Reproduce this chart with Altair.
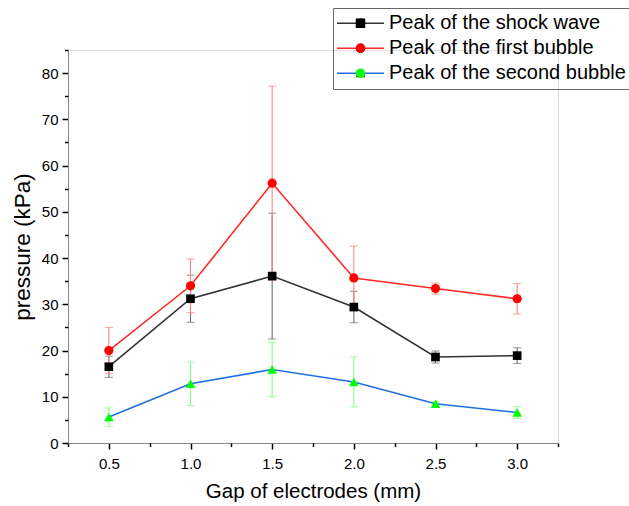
import altair as alt
import pandas as pd

# ---------------- data ----------------
gap = [0.5, 1.0, 1.5, 2.0, 2.5, 3.0]
series_names = ["Peak of the shock wave", "Peak of the first bubble", "Peak of the second bubble"]
shock = [16.5, 31.2, 36.1, 29.4, 18.6, 18.9]
shock_err = [2.3, 5.1, 13.6, 3.4, 1.3, 1.7]
first = [20.0, 34.0, 56.2, 35.7, 33.4, 31.2]
first_err = [5.0, 5.8, 21.0, 6.9, 1.2, 3.3]
second = [5.6, 12.8, 15.9, 13.2, 8.5, 6.6]
second_err = [2.0, 4.7, 5.9, 5.4, 0.5, 1.3]
x_major = [0.5, 1.0, 1.5, 2.0, 2.5, 3.0]
x_minor = [0.25, 0.75, 1.25, 1.75, 2.25, 2.75, 3.25]
y_major = [0, 10, 20, 30, 40, 50, 60, 70, 80]
y_minor = [5, 15, 25, 35, 45, 55, 65, 75, 85]

# ---------------- styles ----------------
line_colors = ["#333333", "#ff2a2a", "#1f6fe0"]
marker_colors = ["#000000", "#ff0000", "#00ff00"]
err_colors = ["#707070", "#ff8585", "#85ff85"]
shapes = ["square", "circle", "triangle-up"]
marker_sizes = [75, 95, 115]
FONT = "Liberation Sans"

values = [shock, first, second]
errors = [shock_err, first_err, second_err]

rows = []
for name, ys, es in zip(series_names, values, errors):
    for g, v, e in zip(gap, ys, es):
        rows.append({"gap": g, "p": v, "lo": v - e, "hi": v + e,
                     "series": name, "series_m": name})
df = pd.DataFrame(rows)

x_axis = alt.Axis(
    values=x_major, format=".1f", orient="bottom", ticks=True,
    tickSize=6, tickWidth=1.5, tickColor="#000000",
    labelOverlap=False, labelFlush=False, grid=False,
    title="Gap of electrodes (mm)", titleFontSize=20.5, titlePadding=10,
    titleFontWeight="normal", labelFontSize=15, labelPadding=7,
)
y_axis = alt.Axis(
    values=y_major, orient="left", ticks=True,
    tickSize=6, tickWidth=1.5, tickColor="#000000",
    labelOverlap=False, labelFlush=False, grid=False,
    title="pressure (kPa)", titleFontSize=22.5, titlePadding=7,
    titleFontWeight="normal", labelFontSize=15, labelPadding=4,
)
x_axis_minor = alt.Axis(
    values=x_minor, orient="bottom", ticks=True, tickSize=3.5, tickWidth=1.5,
    tickColor="#000000", labels=False, domain=False, grid=False, title=None,
)
y_axis_minor = alt.Axis(
    values=y_minor, orient="left", ticks=True, tickSize=3.5, tickWidth=1.5,
    tickColor="#000000", labels=False, domain=False, grid=False, title=None,
)

xs = alt.Scale(domain=[0.25, 3.25], nice=False, zero=False)
ys_ = alt.Scale(domain=[0, 85], nice=False, zero=False)


def X(axis=x_axis):
    return alt.X("gap:Q", scale=xs, axis=axis)


def Y(field="p", axis=y_axis):
    return alt.Y(f"{field}:Q", scale=ys_, axis=axis)


base = alt.Chart(df)

layers = []
for name, col in zip(series_names, err_colors):
    sub = base.transform_filter(alt.datum.series == name)
    layers.append(sub.mark_rule(color=col, strokeWidth=1.1).encode(
        x=X(), y=Y("lo"), y2="hi:Q"))
    layers.append(sub.mark_tick(color=col, orient="horizontal", size=8, thickness=1.1).encode(
        x=X(), y=Y("lo")))
    layers.append(sub.mark_tick(color=col, orient="horizontal", size=8, thickness=1.1).encode(
        x=X(), y=Y("hi")))

line_legend = alt.Legend(
    orient="none", legendX=265, legendY=-42, title=None,
    symbolType="stroke", symbolSize=2209, symbolStrokeWidth=1.6,
    clipHeight=24.5, rowPadding=0, labelFontSize=20, labelFont=FONT,
    labelLimit=400, labelOffset=4, padding=3, strokeColor="#666666",
    labelColor="#000000",
)
marker_legend = alt.Legend(
    orient="none", legendX=265, legendY=-42, title=None,
    symbolSize=90, symbolOffset=14.5, symbolStrokeWidth=0,
    clipHeight=24.5, rowPadding=0, labelFontSize=20, labelFont=FONT,
    labelLimit=400, labelOffset=4, padding=3, labelExpr="''",
)

lines = base.mark_line(strokeWidth=1.6).encode(
    x=X(), y=Y(),
    stroke=alt.Stroke("series:N", sort=series_names,
                      scale=alt.Scale(range=line_colors), legend=line_legend),
)
points = base.mark_point(filled=True, opacity=1, strokeWidth=0).encode(
    x=X(), y=Y(),
    fill=alt.Fill("series_m:N", sort=series_names,
                  scale=alt.Scale(range=marker_colors), legend=marker_legend),
    shape=alt.Shape("series_m:N", sort=series_names,
                    scale=alt.Scale(range=shapes), legend=marker_legend),
    size=alt.Size("series_m:N", sort=series_names,
                  scale=alt.Scale(range=marker_sizes), legend=None),
)

main = alt.layer(*layers, lines, points)

minor = base.mark_point(opacity=0).encode(
    x=X(x_axis_minor), y=Y("p", y_axis_minor),
)

chart = alt.layer(main, minor).resolve_axis(
    x="independent", y="independent"
).properties(
    width=490, height=393,
    padding={"left": 68, "top": 50, "right": 71, "bottom": 63},
    autosize=alt.AutoSizeParams(type="none"),
).configure_view(stroke=None).configure_axis(
    domainColor="#000000", domainWidth=1.5, tickColor="#000000", tickWidth=1.5,
    labelColor="#000000", titleColor="#000000", labelFont=FONT, titleFont=FONT,
    titleFontWeight="normal",
).configure(background="#ffffff")

chart.save("out.html", embed_options={"renderer": "svg", "actions": False})
